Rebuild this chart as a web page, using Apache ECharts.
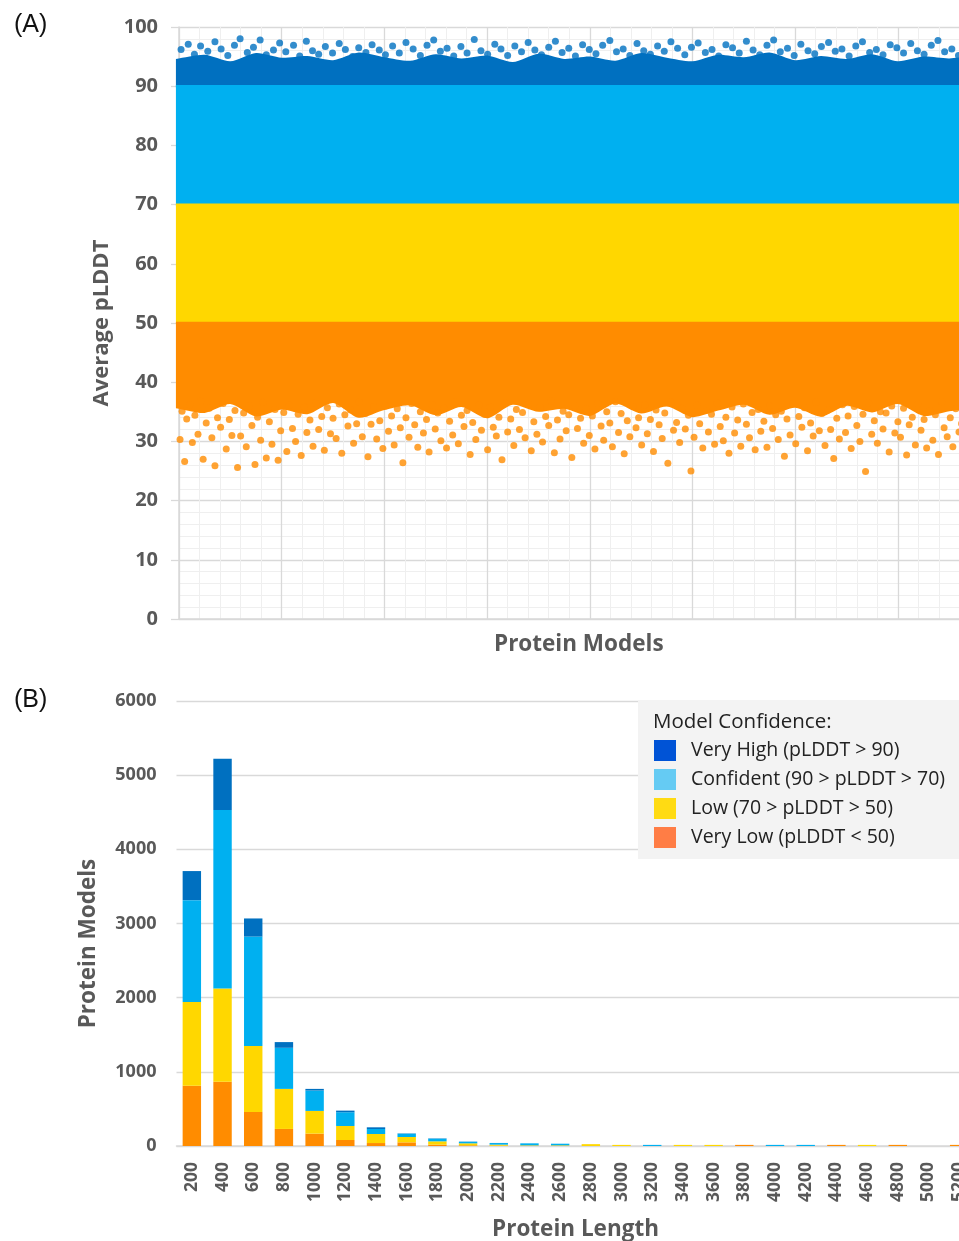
<!DOCTYPE html>
<html>
<head>
<meta charset="utf-8">
<script src="https://cdn.jsdelivr.net/npm/echarts@6/dist/echarts.min.js"></script>
<style>
html,body{margin:0;padding:0;background:#fff;}
#chart{width:959px;height:1241px;}
</style>
</head>
<body>
<div id="chart"></div>
<script>
// ---------- Panel A data (Average pLDDT per protein model) ----------
// dense cloud envelopes (model index, pLDDT)
const envelopeX = [-60,500,1000,1500,2000,2500,3000,3500,4000,4500,5000,5500,6000,6500,7000,7500,8000,8500,9000,9500,10000,10500,11000,11500,12000,12500,13000,13500,14000,14500,15000,15500];
const veryHighCoreTop = [94.6,95.3,94.2,95.6,94.8,95.1,94.4,95.7,94.9,94.3,95.4,94.7,95.2,94.1,95.5,94.6,95.0,94.3,95.6,94.8,94.2,95.3,94.9,95.7,94.4,95.1,94.6,95.4,94.2,95.0,94.7,95.2];
const veryLowCoreBottom = [35.6,34.8,36.3,34.2,35.4,34.6,36.5,34.0,35.3,36.1,34.4,35.8,33.9,36.2,35.0,35.5,34.3,36.4,34.7,35.9,34.1,35.2,36.2,34.5,35.7,34.2,36.0,34.9,36.3,34.3,35.1,35.6];
const bandEdges = {veryHighLow: 89.8, confidentLow: 69.8, confidentHigh: 90.2, lowLow: 49.8, lowHigh: 70.2, veryLowHigh: 50.2};
// sparse outlying models
const veryHighPoints = [[40,96.2],[180,97.1],[300,95.4],[420,96.8],[560,95.9],[700,97.5],[820,96.3],[950,95.2],[1080,96.9],[1190,98.0],[1330,95.7],[1450,96.6],[1580,97.8],[1700,95.3],[1840,96.1],[1960,97.3],[2080,95.8],[2230,96.9],[2350,95.1],[2480,97.6],[2600,96.0],[2720,95.4],[2850,96.7],[2990,95.6],[3120,97.2],[3240,96.2],[3380,95.0],[3500,96.5],[3640,95.7],[3760,97.0],[3900,96.1],[4020,95.3],[4160,96.8],[4290,95.6],[4420,97.4],[4560,96.3],[4700,95.2],[4830,96.9],[4960,97.8],[5090,95.9],[5220,96.4],[5350,95.1],[5490,96.7],[5610,95.6],[5750,97.9],[5880,96.0],[6010,95.4],[6150,97.1],[6270,96.3],[6400,95.2],[6540,96.8],[6670,95.8],[6800,97.4],[6930,96.1],[7060,95.3],[7200,96.6],[7330,97.6],[7460,95.7],[7590,96.4],[7720,95.1],[7860,97.0],[7990,96.2],[8120,95.5],[8250,96.9],[8390,97.7],[8520,95.8],[8650,96.3],[8780,95.2],[8920,97.2],[9050,96.0],[9180,95.4],[9320,96.8],[9450,95.9],[9580,97.5],[9710,96.4],[9850,95.3],[9980,96.6],[10110,97.3],[10250,95.7],[10380,96.2],[10510,95.1],[10650,97.0],[10780,96.5],[10910,95.6],[11050,97.6],[11180,96.1],[11310,95.3],[11450,96.9],[11580,97.8],[11710,95.8],[11850,96.4],[11980,95.2],[12110,97.1],[12250,96.0],[12380,95.5],[12510,96.7],[12650,97.4],[12780,95.9],[12910,96.3],[13050,95.1],[13180,96.8],[13310,97.5],[13450,95.7],[13580,96.2],[13710,95.3],[13850,97.0],[13980,96.5],[14110,95.6],[14250,97.2],[14380,96.0],[14510,95.4],[14650,96.9],[14780,97.7],[14910,95.8],[15050,96.3],[15180,95.2],[15300,96.7]];
const veryLowPoints = [[20,30.3],[60,35.1],[110,26.6],[150,33.8],[210,36.2],[260,29.8],[310,34.4],[370,31.2],[420,36.8],[470,27.0],[530,33.1],[590,35.6],[640,30.6],[700,25.9],[750,34.0],[810,32.4],[860,36.4],[920,28.7],[980,33.7],[1030,31.0],[1090,35.2],[1140,25.6],[1200,30.9],[1260,34.8],[1310,29.1],[1370,36.0],[1420,32.7],[1480,26.1],[1530,34.1],[1590,30.2],[1640,36.6],[1700,27.2],[1760,33.3],[1810,29.5],[1870,35.4],[1930,26.8],[1980,31.8],[2040,34.9],[2100,28.3],[2150,36.1],[2210,32.2],[2270,30.0],[2320,34.6],[2380,27.6],[2440,35.8],[2490,31.5],[2550,33.6],[2610,29.2],[2660,36.5],[2720,32.0],[2780,34.2],[2830,28.5],[2890,35.7],[2950,31.3],[3000,33.9],[3060,30.5],[3120,36.3],[3170,28.0],[3230,34.5],[3290,32.6],[3340,35.3],[3400,29.7],[3460,33.0],[3510,36.7],[3570,30.8],[3630,34.7],[3680,27.4],[3740,32.9],[3800,35.9],[3850,30.4],[3910,33.5],[3970,28.8],[4020,36.0],[4080,31.7],[4140,34.3],[4190,29.4],[4250,35.5],[4310,32.3],[4360,26.4],[4420,34.0],[4480,30.7],[4530,36.4],[4590,32.8],[4650,29.0],[4700,35.0],[4760,31.4],[4820,33.7],[4870,28.2],[4930,36.2],[4990,32.1],[5040,34.8],[5100,30.1],[5160,35.6],[5210,28.9],[5270,33.4],[5330,31.1],[5380,36.6],[5440,29.6],[5500,34.4],[5550,32.5],[5610,35.2],[5670,27.8],[5720,33.2],[5780,30.3],[5840,36.1],[5890,31.9],[5950,34.6],[6010,28.6],[6060,35.8],[6120,32.4],[6180,30.9],[6230,34.1],[6290,26.9],[6350,36.5],[6400,31.6],[6460,33.8],[6520,29.3],[6570,35.4],[6630,32.0],[6690,34.9],[6740,30.6],[6800,36.3],[6860,28.4],[6910,33.3],[6970,31.2],[7030,35.7],[7080,29.9],[7140,34.2],[7200,32.7],[7250,36.8],[7310,28.1],[7370,33.6],[7420,30.4],[7480,35.1],[7540,31.8],[7590,34.5],[7650,27.3],[7710,36.0],[7760,32.2],[7820,33.9],[7880,29.7],[7930,35.5],[7990,31.0],[8050,34.3],[8100,28.7],[8160,36.4],[8220,32.6],[8270,30.2],[8330,35.0],[8390,33.1],[8440,29.1],[8500,36.7],[8560,31.5],[8610,34.7],[8670,27.9],[8730,33.5],[8780,30.8],[8840,35.9],[8900,32.3],[8950,34.0],[9010,29.4],[9070,36.2],[9120,31.3],[9180,33.7],[9240,28.3],[9290,35.3],[9350,32.8],[9410,30.5],[9460,34.8],[9520,26.3],[9580,36.6],[9630,31.9],[9690,33.2],[9750,29.8],[9800,35.6],[9860,32.1],[9920,34.4],[9970,25.0],[10030,30.7],[10090,36.1],[10140,33.0],[10200,28.9],[10260,35.2],[10310,31.6],[10370,34.6],[10430,29.5],[10480,36.5],[10540,32.5],[10600,30.1],[10650,34.1],[10710,28.0],[10770,35.8],[10820,31.4],[10880,33.6],[10940,29.2],[10990,36.3],[11050,32.9],[11110,30.6],[11160,34.9],[11220,28.6],[11280,35.4],[11330,31.7],[11390,33.4],[11450,29.0],[11500,36.0],[11560,32.2],[11620,34.5],[11670,30.3],[11730,35.1],[11790,27.5],[11840,33.8],[11900,31.1],[11960,36.4],[12010,29.6],[12070,34.2],[12130,32.4],[12180,35.7],[12240,28.4],[12300,33.1],[12350,30.9],[12410,36.6],[12470,31.8],[12520,34.7],[12580,29.3],[12640,35.3],[12690,32.0],[12750,27.1],[12810,33.9],[12860,30.4],[12920,36.2],[12980,31.5],[13030,34.3],[13090,28.8],[13150,35.9],[13200,32.7],[13260,30.0],[13320,34.6],[13370,24.9],[13430,36.5],[13490,31.2],[13540,33.5],[13600,29.7],[13660,35.0],[13710,32.1],[13770,34.8],[13830,28.2],[13880,36.0],[13940,31.4],[14000,33.3],[14050,30.7],[14110,35.6],[14170,27.7],[14220,32.8],[14280,34.1],[14340,29.4],[14390,36.3],[14450,31.9],[14510,33.7],[14560,28.9],[14620,35.2],[14680,30.2],[14730,34.5],[14790,27.8],[14850,36.7],[14900,32.3],[14960,30.8],[15020,34.0],[15070,29.1],[15130,35.5],[15190,31.6],[15240,33.0],[15300,36.1]];

// ---------- Panel B data (protein models per length bin) ----------
const lengthBins = ['200','400','600','800','1000','1200','1400','1600','1800','2000','2200','2400','2600','2800','3000','3200','3400','3600','3800','4000','4200','4400','4600','4800','5000','5200'];
const veryLowCounts   = [811,865,459,230,167,81,40,49,18,9,4,2,1,0,0,0,0,0,15,0,0,15,0,15,0,15];
const lowCounts       = [1130,1257,888,540,306,189,122,72,45,27,14,7,8,25,15,0,15,15,0,0,0,0,15,0,0,0];
const confidentCounts = [1374,2408,1477,554,275,185,67,45,36,22,22,27,22,0,0,15,0,0,0,15,15,0,0,0,0,0];
const veryHighCounts  = [392,692,244,77,22,22,23,4,4,2,1,0,0,0,0,0,0,0,0,0,0,0,0,0,0,0];
const legendNames = ['Very High (pLDDT > 90)','Confident (90 > pLDDT > 70)','Low (70 > pLDDT > 50)','Very Low (pLDDT < 50)'];

// ---------- styles ----------
const C = {vh:'#0070C0', c:'#00B0F0', l:'#FFD700', vl:'#FF8C00'};
const legendColors = ['#0053D6','#65CBF3','#FFDB13','#FF7D45'];
const axisGray = '#595959', gridGray = '#d9d9d9', minorGray = '#efefef';
const FONT = 'Open Sans';

const fill = v => envelopeX.map(()=>v);
// a dense cloud drawn as one polygon between its lower and upper envelopes, placed by the axes
function cloud(name, color, lows, highs, smooth) {
  return {
    type:'custom', name:name, xAxisIndex:0, yAxisIndex:0, silent:true, z:2, clip:false,
    data:[[envelopeX[1], (lows[1]+highs[1])/2]],
    renderItem:function(params, api){
      const n = envelopeX.length, pts = [];
      for (let i=0;i<n;i++) {
        const p = api.coord([envelopeX[i], highs[i]]);
        pts.push(p); if (i===0 || i===n-1) pts.push(p.slice());
      }
      for (let i=n-1;i>=0;i--) {
        const p = api.coord([envelopeX[i], lows[i]]);
        pts.push(p); if (i===0 || i===n-1) pts.push(p.slice());
      }
      return {type:'polygon', shape:{points:pts, smooth:smooth||0}, style:{fill:color}};
    }
  };
}

const series = [
  cloud('Very High cloud', C.vh, fill(bandEdges.veryHighLow), veryHighCoreTop, 0.25),
  {type:'scatter', name:'Very High', data:veryHighPoints, xAxisIndex:0, yAxisIndex:0, symbolSize:7, itemStyle:{color:C.vh}, clip:false, z:2},
  cloud('Confident cloud', C.c, fill(bandEdges.confidentLow), fill(bandEdges.confidentHigh), 0),
  cloud('Low cloud', C.l, fill(bandEdges.lowLow), fill(bandEdges.lowHigh), 0),
  cloud('Very Low cloud', C.vl, veryLowCoreBottom, fill(bandEdges.veryLowHigh), 0.25),
  {type:'scatter', name:'Very Low', data:veryLowPoints, xAxisIndex:0, yAxisIndex:0, symbolSize:7, itemStyle:{color:C.vl}, clip:false, z:2},
  {type:'bar', name:'VL bars', stack:'b', data:veryLowCounts, xAxisIndex:1, yAxisIndex:1, itemStyle:{color:C.vl}, barCategoryGap:'40%'},
  {type:'bar', name:'L bars', stack:'b', data:lowCounts, xAxisIndex:1, yAxisIndex:1, itemStyle:{color:C.l}},
  {type:'bar', name:'C bars', stack:'b', data:confidentCounts, xAxisIndex:1, yAxisIndex:1, itemStyle:{color:C.c}},
  {type:'bar', name:'VH bars', stack:'b', data:veryHighCounts, xAxisIndex:1, yAxisIndex:1, itemStyle:{color:C.vh}}
].concat(legendNames.map((n,i)=>({type:'line', name:n, data:[], xAxisIndex:1, yAxisIndex:1, symbol:'rect', itemStyle:{color:legendColors[i]}, lineStyle:{color:legendColors[i]}})));

const chart = echarts.init(document.getElementById('chart'), null, {renderer:'canvas'});
chart.setOption({
  animation:false,
  backgroundColor:'#ffffff',
  textStyle:{fontFamily:FONT},
  title:[
    {text:'(A)', left:9, top:8, textStyle:{fontFamily:'Liberation Sans', fontSize:25, fontWeight:'normal', color:'#111'}},
    {text:'(B)', left:9, top:683, textStyle:{fontFamily:'Liberation Sans', fontSize:25, fontWeight:'normal', color:'#111'}},
    {text:'Model Confidence:', left:648, top:707, textStyle:{fontFamily:FONT, fontSize:20.5, fontWeight:'normal', color:'#222'}}
  ],
  legend:{
    data:legendNames, orient:'vertical', left:638, top:700,
    padding:[40,40,11,16], backgroundColor:'#f3f3f3',
    itemWidth:22, itemHeight:21, itemGap:8, icon:'rect',
    selectedMode:false,
    textStyle:{fontFamily:FONT, fontSize:19.5, color:'#222', padding:[0,0,0,10]}
  },
  grid:[
    {left:179, top:27, width:821.6, height:592, outerBoundsMode:'none', containLabel:false},
    {left:176.5, top:701, width:798, height:445, outerBoundsMode:'none', containLabel:false}
  ],
  xAxis:[
    {type:'value', gridIndex:0, min:0, max:16000, interval:2000,
     axisLabel:{show:false}, axisTick:{show:false},
     axisLine:{show:true, lineStyle:{color:gridGray, width:1.5}},
     splitLine:{show:true, lineStyle:{color:gridGray, width:1.3}},
     minorTick:{show:false, splitNumber:5},
     minorSplitLine:{show:true, lineStyle:{color:minorGray, width:1}},
     name:'Protein Models', nameLocation:'middle', nameGap:14,
     nameTextStyle:{fontFamily:FONT, fontSize:22.5, fontWeight:'bold', color:axisGray, padding:[0,22,0,0]}},
    {type:'category', gridIndex:1, data:lengthBins,
     axisTick:{show:false},
     axisLine:{show:true, lineStyle:{color:gridGray, width:1.5}},
     axisLabel:{rotate:90, fontFamily:FONT, fontSize:17.5, fontWeight:'bold', color:axisGray, margin:16, interval:0},
     name:'Protein Length', nameLocation:'middle', nameGap:72,
     nameTextStyle:{fontFamily:FONT, fontSize:22.5, fontWeight:'bold', color:axisGray}}
  ],
  yAxis:[
    {type:'value', gridIndex:0, min:0, max:100, interval:10,
     axisLabel:{fontFamily:FONT, fontSize:20, fontWeight:'bold', color:axisGray, margin:21},
     axisTick:{show:true, length:8, lineStyle:{color:gridGray, width:1.3}},
     axisLine:{show:true, lineStyle:{color:gridGray, width:1.5}},
     splitLine:{show:true, lineStyle:{color:gridGray, width:1.3}},
     minorTick:{show:false, splitNumber:5},
     minorSplitLine:{show:true, lineStyle:{color:minorGray, width:1}},
     name:'Average pLDDT', nameLocation:'middle', nameGap:66,
     nameTextStyle:{fontFamily:FONT, fontSize:22, fontWeight:'bold', color:axisGray}},
    {type:'value', gridIndex:1, min:0, max:6000, interval:1000,
     axisLabel:{fontFamily:FONT, fontSize:18, fontWeight:'bold', color:axisGray, margin:20, formatter:function(v){return String(v);}},
     axisTick:{show:false}, axisLine:{show:false},
     splitLine:{show:true, lineStyle:{color:gridGray, width:1.3}},
     name:'Protein Models', nameLocation:'middle', nameGap:76,
     nameTextStyle:{fontFamily:FONT, fontSize:22.5, fontWeight:'bold', color:axisGray, padding:[0,40,0,0]}}
  ],
  series: series
});
</script>
</body>
</html>
